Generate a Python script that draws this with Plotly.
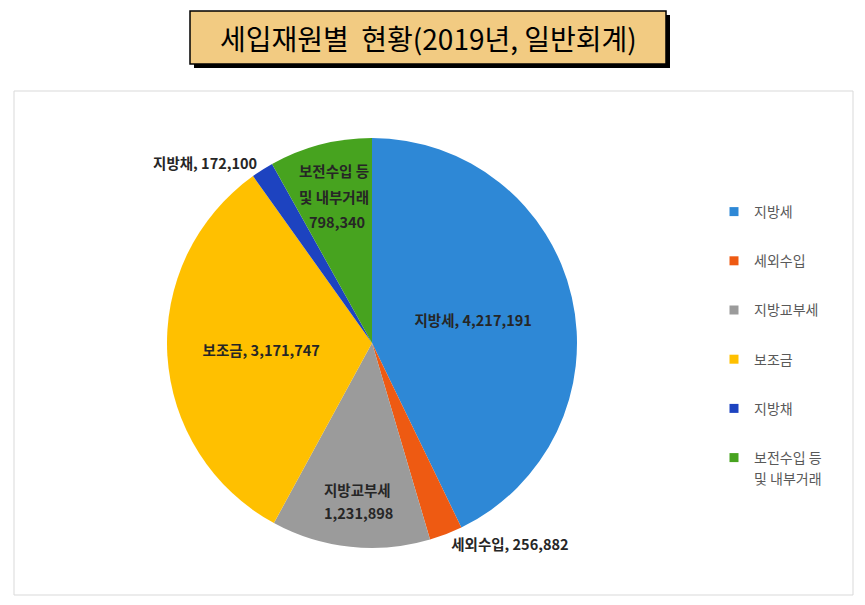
import plotly.graph_objects as go

# the page body has an 8px margin, so the figure is drawn 8px in from the corner
OFF = 8
W, H = 865 - OFF, 605 - OFF

# data
labels = ["지방세", "세외수입", "지방교부세", "보조금", "지방채", "보전수입 등 및 내부거래"]
values = [4217191, 256882, 1231898, 3171747, 172100, 798340]
colors = ["#2E88D6", "#EE5A12", "#9B9B9B", "#FFC000", "#1D43C0", "#47A31F"]
legend_names = ["지방세", "세외수입", "지방교부세", "보조금", "지방채", "보전수입 등"]
slice_text = [
  "지방세, 4,217,191",
  "세외수입, 256,882",
  "",
  "보조금, 3,171,747",
  "지방채, 172,100",
  "",
]
# the two multi-line labels are placed as annotations (the original has wide line spacing)
text_pos = ["inside", "outside", "none", "inside", "outside", "none"]

FONT = "Noto Sans CJK KR"
LABEL_FONT = dict(family = FONT, size = 14.5, color = "#262626", weight = "bold")

def px_x(x):
  return (x - OFF) / W

def px_y(y):
  return 1 - (y - OFF) / H

fig = go.Figure()

fig.add_trace(go.Pie(
  labels = labels,
  values = values,
  text = slice_text,
  texttemplate = "%{text}",
  textposition = text_pos,
  insidetextorientation = "horizontal",
  textfont = LABEL_FONT,
  marker = dict(colors = colors, line = dict(width = 0)),
  sort = False,
  direction = "clockwise",
  rotation = 0,
  showlegend = False,
  hoverinfo = "label+value",
  domain = dict(x = [px_x(167), px_x(577)], y = [px_y(548), px_y(138)]),
))

# legend entries as separate groups so they get spaced out like the original
for i, (lab, col) in enumerate(zip(legend_names, colors)):
  fig.add_trace(go.Scatter(
    x = [None], y = [None],
    mode = "markers",
    name = lab,
    legendgroup = str(i),
    marker = dict(symbol = "square", size = 9, color = col),
  ))
# second line of the last legend entry
fig.add_trace(go.Scatter(
  x = [None], y = [None],
  mode = "markers",
  name = "및 내부거래",
  legendgroup = "5",
  marker = dict(symbol = "square", size = 9, color = "rgba(0,0,0,0)"),
))

shapes = [
  # chart area border
  dict(type = "rect", xref = "paper", yref = "paper",
       x0 = px_x(14), x1 = px_x(853), y0 = px_y(595), y1 = px_y(91),
       line = dict(color = "#D9D9D9", width = 1), fillcolor = "rgba(0,0,0,0)", layer = "below"),
  # title box shadow
  dict(type = "rect", xref = "paper", yref = "paper",
       x0 = px_x(194), x1 = px_x(670), y0 = px_y(68), y1 = px_y(15),
       line = dict(width = 0), fillcolor = "black"),
  # title box
  dict(type = "rect", xref = "paper", yref = "paper",
       x0 = px_x(190), x1 = px_x(666), y0 = px_y(64), y1 = px_y(11),
       line = dict(color = "black", width = 1.5), fillcolor = "#F2CB82"),
]

annotations = [dict(
  text = "세입재원별  현황(2019년, 일반회계)",
  xref = "paper", yref = "paper",
  x = px_x(428), y = px_y(38),
  xanchor = "center", yanchor = "middle",
  showarrow = False,
  font = dict(family = FONT, size = 28, color = "black"),
)]

multi_labels = [
  ("보전수입 등", 334, 170),
  ("및 내부거래", 334, 197),
  ("798,340", 337, 222),
  ("지방교부세", 357, 489),
  ("1,231,898", 358, 512),
]
for txt, lx, ly in multi_labels:
  annotations.append(dict(
    text = txt, xref = "paper", yref = "paper",
    x = px_x(lx), y = px_y(ly),
    xanchor = "center", yanchor = "middle",
    showarrow = False, font = LABEL_FONT,
  ))

fig.update_layout(
  width = W, height = H,
  margin = dict(l = 0, r = 0, t = 0, b = 0),
  paper_bgcolor = "white",
  plot_bgcolor = "white",
  font = dict(family = FONT),
  xaxis = dict(visible = False),
  yaxis = dict(visible = False),
  shapes = shapes,
  annotations = annotations,
  legend = dict(
    x = px_x(714), y = px_y(196),
    xanchor = "left", yanchor = "top",
    traceorder = "grouped",
    tracegroupgap = 28,
    font = dict(family = FONT, size = 14, color = "#595959"),
    itemwidth = 30,
    bgcolor = "rgba(0,0,0,0)",
  ),
)

fig.write_html("out.html")
